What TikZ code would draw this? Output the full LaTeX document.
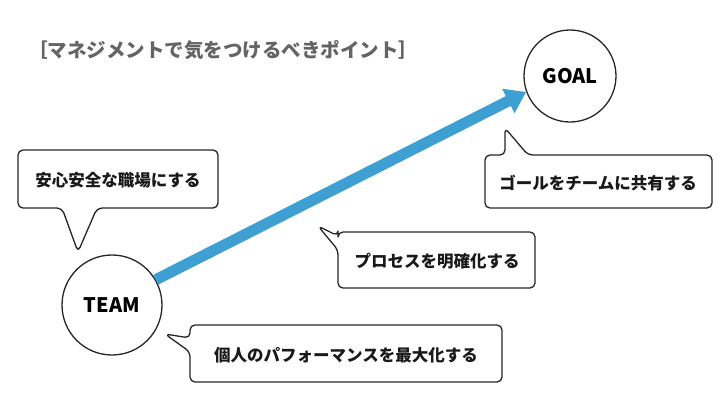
\documentclass[tikz,border=0pt]{standalone}
\usepackage{fontspec}
\newfontfamily\jp{Noto Sans CJK JP}
\usetikzlibrary{arrows.meta}
\definecolor{arr}{RGB}{62,160,210}
\definecolor{tgray}{RGB}{100,100,100}
\tikzset{
  bub/.style={draw=black!85,line width=1.3pt,fill=white,rounded corners=5pt,line join=round},
  lbl/.style={font=\jp\fontsize{16.5}{19}\selectfont\bfseries,text=black!90},
  circ/.style={circle,draw=black!85,line width=1.3pt,minimum size=#1,font=\jp\fontsize{20}{23}\selectfont\bfseries}
}
\begin{document}
\begin{tikzpicture}[x=1pt,y=-1pt]
\useasboundingbox (0,0) rectangle (720,405);
\node[font=\jp\fontsize{19.5}{22}\selectfont\bfseries,text=tgray,anchor=west,inner sep=0pt] (title) at (28,50) {［マネジメントで気をつけるべきポイント］};
\node[circ=92pt] (goal) at (570,76) {GOAL};
\node[circ=100pt] (team) at (112,305) {TEAM};
\draw[arr,line width=11pt,-{Triangle[length=20pt,width=26pt]}] (team.30) -- (goal.200);
% bubbles
\draw[bub] (18,150) -- (218,150) -- (218,208) -- (97,208) -- (78,252) -- (62,208) -- (18,208) -- cycle;
\node[lbl] (b1) at (118,180) {安心安全な職場にする};
\draw[bub] (485,155) -- (505,155) -- (505,128) -- (528,155) -- (712,155) -- (712,208) -- (485,208) -- cycle;
\node[lbl] (b2) at (598,183) {ゴールをチームに共有する};
\draw[bub] (338,232) -- (535,232) -- (535,288) -- (338,288) -- (338,250) -- (318,226) -- (338,236) -- cycle;
\node[lbl] (b3) at (437,261) {プロセスを明確化する};
\draw[bub] (190,325) -- (502,325) -- (502,382) -- (190,382) -- (190,352) -- (165,334) -- (190,338) -- cycle;
\node[lbl] (b4) at (346,355) {個人のパフォーマンスを最大化する};
\end{tikzpicture}
\end{document}
